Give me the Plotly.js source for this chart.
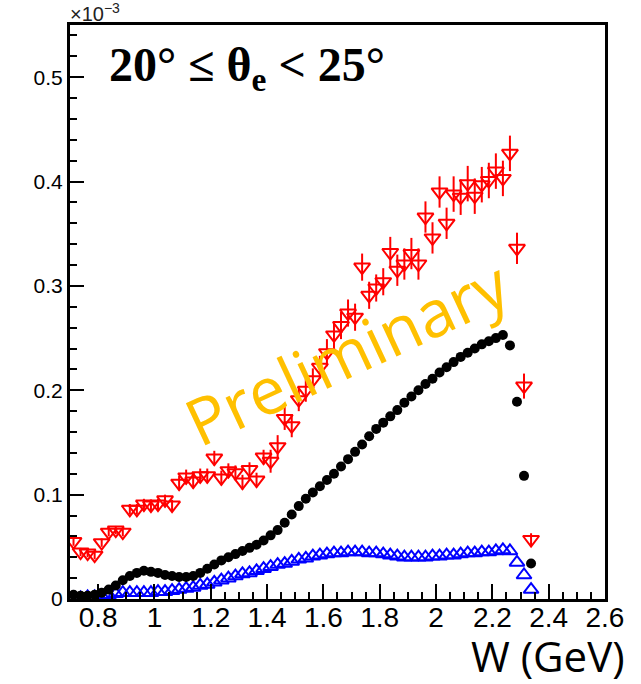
<!DOCTYPE html>
<html><head><meta charset="utf-8">
<script src="https://cdn.plot.ly/plotly-3.0.1.min.js"></script>
<style>html,body{margin:0;padding:0;background:#fff}#chart{width:641px;height:684px}</style>
</head><body><div id="chart"></div>
<script>
// W bin centres (GeV)
const W = [0.7125,0.7375,0.7625,0.7875,0.8125,0.8375,0.8625,0.8875,0.9125,0.9375,
0.9625,0.9875,1.0125,1.0375,1.0625,1.0875,1.1125,1.1375,1.1625,1.1875,
1.2125,1.2375,1.2625,1.2875,1.3125,1.3375,1.3625,1.3875,1.4125,1.4375,
1.4625,1.4875,1.5125,1.5375,1.5625,1.5875,1.6125,1.6375,1.6625,1.6875,
1.7125,1.7375,1.7625,1.7875,1.8125,1.8375,1.8625,1.8875,1.9125,1.9375,
1.9625,1.9875,2.0125,2.0375,2.0625,2.0875,2.1125,2.1375,2.1625,2.1875,
2.2125,2.2375,2.2625,2.2875,2.3125,2.3375];

// values in units of 1e-3
const blackVals = [0.004,0.003,0.003,0.004,0.006,0.009,0.013,0.018,0.022,0.025,
0.027,0.026,0.025,0.023,0.022,0.021,0.021,0.022,0.025,0.029,
0.033,0.037,0.040,0.043,0.046,0.049,0.052,0.056,0.061,0.066,
0.073,0.081,0.089,0.096,0.102,0.108,0.114,0.120,0.127,0.134,
0.141,0.148,0.156,0.163,0.169,0.175,0.181,0.188,0.194,0.200,
0.206,0.211,0.217,0.222,0.227,0.232,0.236,0.240,0.244,0.247,
0.250,0.253,0.243,0.189,0.118,0.034];

const redVals = [0.055,0.045,0.044,0.042,0.054,0.064,0.066,0.064,0.086,0.086,
0.091,0.090,0.091,0.095,0.090,0.111,0.117,0.113,0.118,0.118,
0.135,0.116,0.123,0.121,0.112,0.124,0.114,0.136,0.132,0.146,
0.173,0.166,0.191,0.200,0.210,0.222,0.236,0.253,0.262,0.274,
0.270,0.318,0.291,0.298,0.304,0.332,0.315,0.321,0.331,0.321,
0.366,0.346,0.390,0.360,0.388,0.385,0.398,0.386,0.397,0.401,
0.410,0.403,0.427,0.336,0.204,0.057];

const redErr = [0.004,0.004,0.004,0.004,0.004,0.004,0.004,0.004,0.005,0.005,
0.005,0.005,0.005,0.005,0.005,0.007,0.007,0.007,0.007,0.007,
0.007,0.007,0.007,0.007,0.007,0.007,0.007,0.007,0.011,0.011,
0.011,0.011,0.011,0.011,0.011,0.011,0.013,0.013,0.013,0.013,
0.013,0.013,0.013,0.013,0.013,0.015,0.015,0.015,0.015,0.015,
0.015,0.015,0.015,0.015,0.017,0.017,0.017,0.017,0.017,0.017,
0.017,0.017,0.017,0.015,0.012,0.006];

const blueVals = [0.001,0.001,0.002,0.002,0.003,0.004,0.005,0.006,0.006,0.006,
0.006,0.006,0.007,0.007,0.008,0.009,0.010,0.011,0.013,0.014,
0.016,0.018,0.020,0.022,0.024,0.025,0.027,0.029,0.031,0.033,
0.034,0.036,0.038,0.039,0.041,0.042,0.043,0.044,0.044,0.045,
0.045,0.045,0.044,0.044,0.043,0.042,0.041,0.040,0.040,0.040,
0.040,0.041,0.041,0.042,0.042,0.043,0.044,0.044,0.045,0.045,
0.046,0.047,0.046,0.035,0.023,0.009];

const xTickVals = [0.8,1.0,1.2,1.4,1.6,1.8,2.0,2.2,2.4,2.6];
const xTickText = ['0.8','1','1.2','1.4','1.6','1.8','2','2.2','2.4','2.6'];
const yTickVals = [0,0.1,0.2,0.3,0.4,0.5];
const yTickText = ['0','0.1','0.2','0.3','0.4','0.5'];

const traces = [
  {x: W, y: blueVals, type:'scatter', mode:'markers', hoverinfo:'skip',
   marker:{symbol:'triangle-up-open', size:13, color:'#0000ff', line:{width:2, color:'#0000ff'}}},
  {x: W, y: blackVals, type:'scatter', mode:'markers', hoverinfo:'skip',
   marker:{symbol:'circle', size:10, color:'#000000', line:{width:0}}},
  {x: W, y: redVals, type:'scatter', mode:'markers', hoverinfo:'skip',
   error_y:{type:'data', array: redErr, visible:true, color:'#ff0000', thickness:2, width:0},
   marker:{symbol:'triangle-down-open', size:14, color:'#ff0000', line:{width:2, color:'#ff0000'}}}
];

const axisCommon = {showline:true, mirror:true, linecolor:'#000', linewidth:3,
  ticks:'inside', tickcolor:'#000', tickwidth:2, showgrid:false, zeroline:false, fixedrange:true};

const layout = {
  width:641, height:684,
  margin:{l:70, r:36, t:25, b:85, pad:0},
  paper_bgcolor:'#fff', plot_bgcolor:'#fff',
  showlegend:false,
  xaxis: Object.assign({}, axisCommon, {
    range:[0.7, 2.6001], tickmode:'array', tickvals:xTickVals, ticktext:xTickText, ticklen:15,
    ticklabelstandoff:-9,
    tickfont:{family:'Liberation Sans, Arial, sans-serif', size:28, color:'#000'},
    minor:{dtick:0.05, tick0:0, ticks:'inside', ticklen:7, tickwidth:2, tickcolor:'#000', showgrid:false}
  }),
  yaxis: Object.assign({}, axisCommon, {
    range:[0, 0.55], tickmode:'array', tickvals:yTickVals, ticktext:yTickText, ticklen:14,
    tickfont:{family:'Liberation Sans, Arial, sans-serif', size:21, color:'#000'},
    minor:{dtick:0.02, tick0:0, ticks:'inside', ticklen:7, tickwidth:2, tickcolor:'#000', showgrid:false}
  }),
  annotations:[
    {xref:'paper', yref:'paper', x:-0.004, y:1.022, xanchor:'left', yanchor:'middle', showarrow:false,
     text:'×10<sup>−3</sup>', font:{family:'Liberation Sans, Arial, sans-serif', size:20, color:'#222'}},
    {xref:'paper', yref:'paper', x:0.069, y:0.925, xanchor:'left', yanchor:'middle', showarrow:false,
     text:'<b>20° ≤ θ<sub>e</sub> < 25°</b>', font:{family:'Liberation Serif, Times New Roman, serif', size:48, color:'#000'}},
    {xref:'x', yref:'y', x:1.683, y:0.2366, xanchor:'center', yanchor:'middle', showarrow:false,
     textangle:-25, text:'Preliminary', font:{family:'Open Sans, sans-serif', size:65, color:'#FFC000'}},
    {xref:'paper', yref:'paper', x:1.041, y:-0.0993, xanchor:'right', yanchor:'middle', showarrow:false,
     text:'W (GeV)', font:{family:'Open Sans, sans-serif', size:42, color:'#000'}}
  ]
};

Plotly.newPlot('chart', traces, layout, {displayModeBar:false, staticPlot:true});
</script>
</body></html>
